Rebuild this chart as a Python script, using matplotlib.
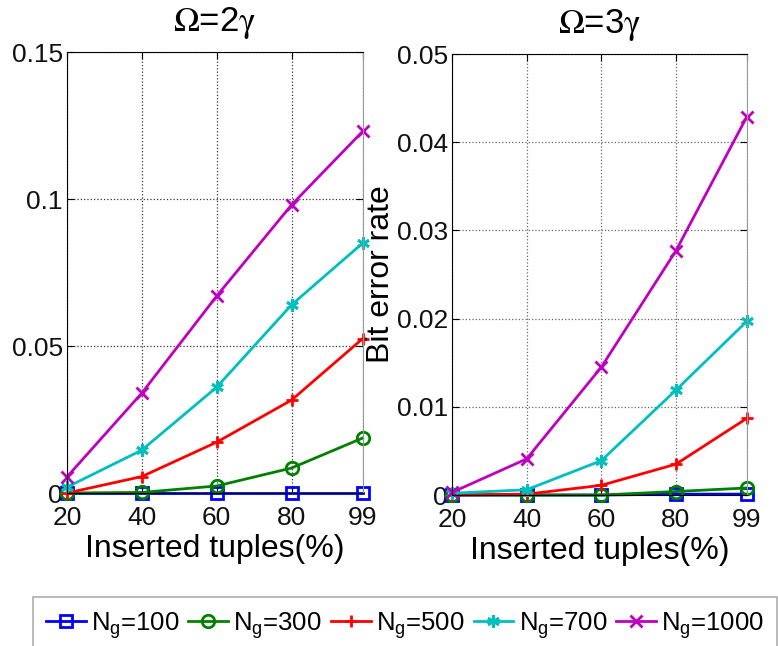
import matplotlib
matplotlib.use('Agg')
import matplotlib.pyplot as plt

plt.rcParams['font.family'] = ['Liberation Sans', 'DejaVu Sans']
plt.rcParams['mathtext.fontset'] = 'custom'
plt.rcParams['mathtext.rm'] = 'Liberation Sans'
plt.rcParams['mathtext.it'] = 'Liberation Sans'

# data
x_pct = [20, 40, 60, 80, 99]
x_ticks = [20, 40, 60, 80, 99]
labels = ['$\\mathregular{N_g}$=100', '$\\mathregular{N_g}$=300', '$\\mathregular{N_g}$=500',
          '$\\mathregular{N_g}$=700', '$\\mathregular{N_g}$=1000']

# Omega = 2 gamma
ber2_100 = [0.0, 0.0, 0.0, 0.0, 0.0]
ber2_300 = [0.0, 0.0002, 0.0024, 0.0085, 0.0187]
ber2_500 = [0.0, 0.0056, 0.0173, 0.0316, 0.0525]
ber2_700 = [0.002, 0.0146, 0.036, 0.064, 0.085]
ber2_1000 = [0.0055, 0.034, 0.067, 0.098, 0.123]

# Omega = 3 gamma
ber3_100 = [0.0, 0.0, 0.0, 0.0001, 0.0001]
ber3_300 = [0.0, 0.0, 0.0, 0.0004, 0.0008]
ber3_500 = [0.0, 0.0001, 0.0011, 0.0035, 0.0087]
ber3_700 = [0.0002, 0.0006, 0.0039, 0.0119, 0.0197]
ber3_1000 = [0.0003, 0.0041, 0.0145, 0.0277, 0.0429]

COLORS = ['#0000ff', '#008000', '#ff0000', '#00bfbf', '#bf00bf']
MARKERS = ['s', 'o', '+', (6, 2, 0), 'x']

fig = plt.figure(figsize=(7.78, 6.46), dpi=100)
ax1 = fig.add_axes([0.0861, 0.2368, 0.380, 0.6827])
ax2 = fig.add_axes([0.581, 0.2337, 0.379, 0.6827])

def draw(ax, series, ymax, yticks, yticklabels, title, gridcol):
    lines = []
    for vals, c, m, lab in zip(series, COLORS, MARKERS, labels):
        ln, = ax.plot(x_pct, vals, color=c, marker=m, lw=2, ms=9, mew=2,
                      mfc='none', label=lab, clip_on=False)
        lines.append(ln)
    ax.set_xlim(20, 99)
    ax.set_ylim(0, ymax)
    ax.set_xticks(x_ticks)
    ax.set_yticks(yticks)
    ax.set_yticklabels(yticklabels)
    ax.grid(True, ls=':', color=gridcol, lw=0.9)
    ax.tick_params(direction='in', top=True, right=True, labelsize=19, length=5,
                   labelcolor='#111111')
    ax.tick_params(axis='y', pad=3)
    ax.tick_params(axis='x', pad=9)
    ax.spines['right'].set_color('#999999')
    ax.set_xlabel('Inserted tuples(%)', fontsize=23, labelpad=3)
    ax.set_title(r'$\mathrm{\Omega}$=' + title + r'$\mathrm{\gamma}$', fontsize=25,
                 math_fontfamily='stix', pad=15)
    return lines

lines = draw(ax1, [ber2_100, ber2_300, ber2_500, ber2_700, ber2_1000], 0.15,
             [0, 0.05, 0.1, 0.15], ['0', '0.05', '0.1', '0.15'], '2', '#333333')
draw(ax2, [ber3_100, ber3_300, ber3_500, ber3_700, ber3_1000], 0.05,
     [0, 0.01, 0.02, 0.03, 0.04, 0.05], ['0', '0.01', '0.02', '0.03', '0.04', '0.05'], '3',
     '#666666')
ax2.set_ylabel('Bit error rate', fontsize=23)
ax2.yaxis.set_label_coords(-0.19, 0.5)

leg = fig.legend(handles=lines, loc='upper left', bbox_to_anchor=(33/778, 1 - 597/646),
                 ncol=5, fontsize=18.5, frameon=True, fancybox=False, handlelength=1.55,
                 handletextpad=0.2, columnspacing=0.35, borderaxespad=0, borderpad=0.5)
leg.get_frame().set_edgecolor('#999999')
leg.get_frame().set_linewidth(1.2)

fig.savefig('out.png', dpi=100)
